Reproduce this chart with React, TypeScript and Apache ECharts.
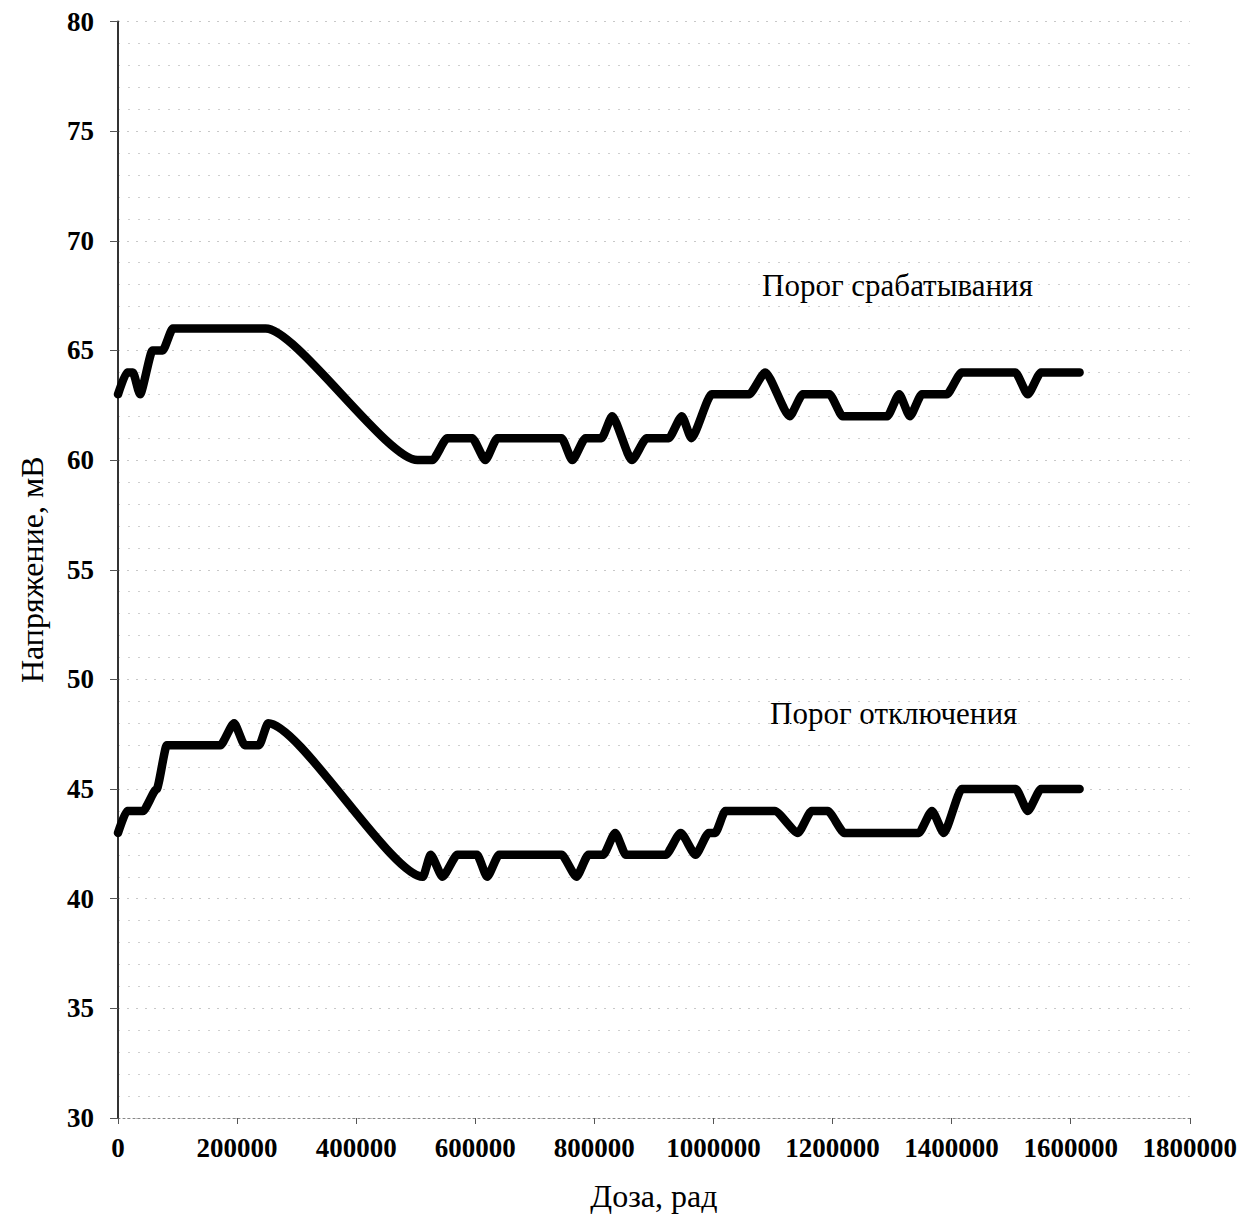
import React, { useEffect, useRef } from "react";
import * as echarts from "echarts";

const upperDose = [0, 15000, 25000, 37000, 58000, 75000, 92000, 248000, 503000, 528000, 553000, 595000, 617000, 637000, 745000, 763000, 785000, 812000, 830000, 863000, 888000, 925000, 947000, 963000, 997000, 1060000, 1087000, 1128000, 1150000, 1195000, 1217000, 1292000, 1312000, 1330000, 1350000, 1392000, 1417000, 1507000, 1528000, 1550000, 1615000];
const upperVolt = [63, 64, 64, 63, 65, 65, 66, 66, 60, 60, 61, 61, 60, 61, 61, 60, 61, 61, 62, 60, 61, 61, 62, 61, 63, 63, 64, 62, 63, 63, 62, 62, 63, 62, 63, 63, 64, 64, 63, 64, 64];

const lowerDose = [0, 15000, 42000, 65000, 82000, 172000, 195000, 213000, 237000, 252000, 512000, 525000, 545000, 570000, 603000, 620000, 640000, 745000, 770000, 790000, 815000, 835000, 853000, 920000, 945000, 970000, 992000, 1003000, 1020000, 1103000, 1142000, 1165000, 1192000, 1220000, 1345000, 1367000, 1387000, 1417000, 1508000, 1528000, 1550000, 1615000];
const lowerVolt = [43, 44, 44, 45, 47, 47, 48, 47, 47, 48, 41, 42, 41, 42, 42, 41, 42, 42, 41, 42, 42, 43, 42, 42, 43, 42, 43, 43, 44, 44, 43, 44, 44, 43, 43, 44, 43, 45, 45, 44, 45, 45];

const upperName = "Порог срабатывания";
const lowerName = "Порог отключения";
const xTitle = "Доза, рад";
const yTitle = "Напряжение, мВ";

const FONT = "'Liberation Serif', 'Times New Roman', serif";

export default function App() {
  const ref = useRef<HTMLDivElement>(null);
  useEffect(() => {
    if (!ref.current) return;
    const chart = echarts.init(ref.current, null, { renderer: "svg" });
    const toPairs = (xs: number[], ys: number[]) => xs.map((x, i) => [x, ys[i]]);
    const lineStyle = { color: "#000", width: 8.5, cap: "round" as const, join: "round" as const };
    chart.setOption({
      animation: false,
      backgroundColor: "#fff",
      grid: { left: 100, right: 45, top: 12, bottom: 92, containLabel: false },
      xAxis: {
        type: "value",
        min: 0,
        max: 1800000,
        interval: 200000,
        name: xTitle,
        nameLocation: "middle",
        nameGap: 62,
        nameTextStyle: { fontFamily: FONT, fontSize: 32, color: "#000" },
        axisLine: { show: true, onZero: false, lineStyle: { color: "#888", width: 1, type: [2, 3] } },
        axisTick: { show: true, length: 6, lineStyle: { color: "#555" } },
        axisLabel: {
          fontFamily: FONT, fontSize: 27, fontWeight: "bold", color: "#000", margin: 16,
          formatter: (v: number) => String(v),
        },
        splitLine: { show: false },
      },
      yAxis: {
        type: "value",
        min: 30,
        max: 80,
        interval: 5,
        name: yTitle,
        nameLocation: "middle",
        nameGap: 70,
        nameRotate: 90,
        nameTextStyle: { fontFamily: FONT, fontSize: 32, color: "#000" },
        axisLine: { show: true, lineStyle: { color: "#333", width: 2 } },
        axisTick: { show: true, length: 8, lineStyle: { color: "#555" } },
        axisLabel: {
          fontFamily: FONT, fontSize: 27, fontWeight: "bold", color: "#000", margin: 24,
          formatter: (v: number) => String(v),
        },
        splitLine: { show: true, lineStyle: { color: "#c8c8c8", width: 1, type: [2, 7] } },
        minorTick: { show: false, splitNumber: 5 },
        minorSplitLine: { show: true, lineStyle: { color: "#cfcfcf", width: 1, type: [2, 8] } },
      },
      series: [
        {
          name: upperName,
          type: "line",
          data: toPairs(upperDose, upperVolt),
          showSymbol: false,
          smooth: 0.2,
          smoothMonotone: "x",
          lineStyle,
        },
        {
          name: lowerName,
          type: "line",
          data: toPairs(lowerDose, lowerVolt),
          showSymbol: false,
          smooth: 0.2,
          smoothMonotone: "x",
          lineStyle,
        },
      ],
      graphic: [
        {
          type: "text",
          left: 754,
          top: 262,
          style: { text: upperName, fontFamily: FONT, fontSize: 31, fill: "#000" },
        },
        {
          type: "text",
          left: 762,
          top: 690,
          style: { text: lowerName, fontFamily: FONT, fontSize: 31, fill: "#000" },
        },
      ],
    });
    return () => chart.dispose();
  }, []);
  return <div ref={ref} style={{ width: 1232, height: 1209 }} />;
}
